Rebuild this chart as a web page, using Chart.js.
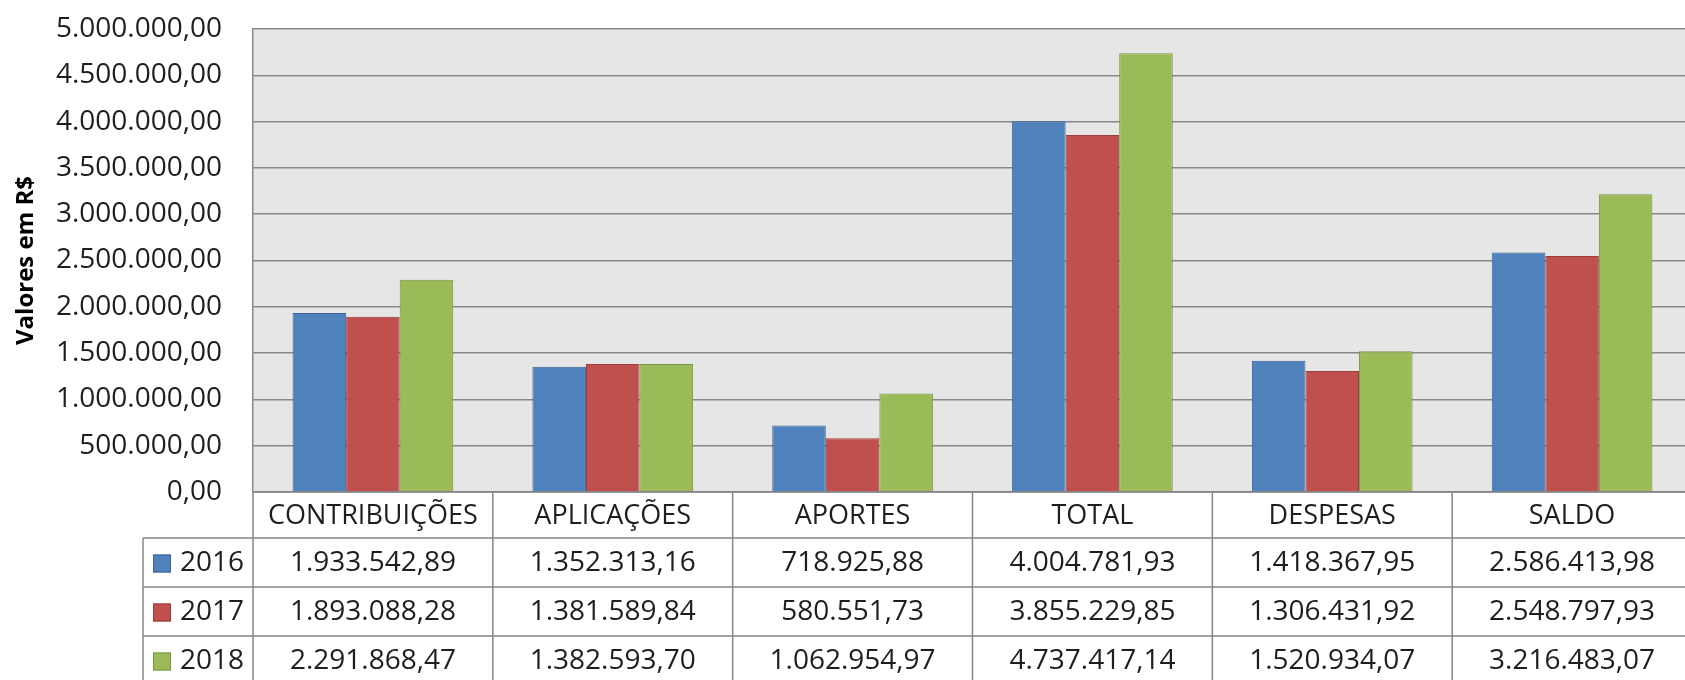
<!DOCTYPE html>
<html lang="pt-BR">
<head>
<meta charset="utf-8">
<title>Valores em R$ 2016-2018</title>
<script src="https://cdn.jsdelivr.net/npm/chart.js@4.4.1/dist/chart.umd.min.js"></script>
<style>
  html, body { margin: 0; padding: 0; background: #ffffff; overflow: hidden; }
  #quadro { width: 1692px; height: 680px; }
</style>
</head>
<body>
<div id="quadro"><canvas id="grafico" width="1692" height="680"></canvas></div>
<script>
// Dados do gráfico
const categorias = ['CONTRIBUIÇÕES', 'APLICAÇÕES', 'APORTES', 'TOTAL', 'DESPESAS', 'SALDO'];
const anos = ['2016', '2017', '2018'];
const valores2016 = [1933542.89, 1352313.16, 718925.88, 4004781.93, 1418367.95, 2586413.98];
const valores2017 = [1893088.28, 1381589.84, 580551.73, 3855229.85, 1306431.92, 2548797.93];
const valores2018 = [2291868.47, 1382593.70, 1062954.97, 4737417.14, 1520934.07, 3216483.07];
const eixoMin = 0;
const eixoMax = 5000000;
const eixoPasso = 500000;

const cores = ['#4f81bd', '#c0504d', '#9bbb59'];
const coresBorda = ['#3c6595', '#9c3d3a', '#7a9645'];
const fonte = '"Open Sans", "Liberation Sans", sans-serif';
const corLinha = '#878787';
const corTexto = '#1e1e1e';

// Formata número no padrão brasileiro (1.234.567,89)
function formatarBR(v) {
  const partes = v.toFixed(2).split('.');
  return partes[0].replace(/\B(?=(\d{3})+(?!\d))/g, '.') + ',' + partes[1];
}

// Fundo cinza da área de plotagem
const fundoPlot = {
  id: 'fundoPlot',
  beforeDraw(chart) {
    const { ctx, chartArea: a } = chart;
    ctx.save();
    ctx.fillStyle = '#e6e6e6';
    ctx.fillRect(a.left, a.top, a.right - a.left, a.bottom - a.top);
    ctx.restore();
  }
};

// Tabela de dados abaixo do gráfico
const tabelaDados = {
  id: 'tabelaDados',
  afterDraw(chart) {
    const { ctx, chartArea: a } = chart;
    const x = chart.scales.x;
    const series = [valores2016, valores2017, valores2018];
    const larg = (a.right - a.left) / categorias.length;
    const altCab = 46;
    const altLinha = 49;
    const legEsq = 143;
    const base = a.bottom + altCab + altLinha * anos.length;

    ctx.save();
    ctx.strokeStyle = corLinha;
    ctx.lineWidth = 1.5;

    // linhas horizontais
    ctx.beginPath();
    ctx.moveTo(a.left, a.bottom);
    ctx.lineTo(a.right, a.bottom);
    for (let r = 0; r <= anos.length; r++) {
      const y = a.bottom + altCab + altLinha * r;
      ctx.moveTo(legEsq, y);
      ctx.lineTo(a.right, y);
    }
    // linhas verticais
    for (let c = 0; c <= categorias.length; c++) {
      const xx = a.left + larg * c;
      ctx.moveTo(xx, a.bottom);
      ctx.lineTo(xx, base);
    }
    ctx.moveTo(legEsq, a.bottom + altCab);
    ctx.lineTo(legEsq, base);
    ctx.stroke();

    // textos
    ctx.fillStyle = corTexto;
    ctx.textAlign = 'center';
    ctx.textBaseline = 'middle';
    ctx.font = '27px ' + fonte;
    categorias.forEach((cat, i) => {
      ctx.fillText(cat, x.getPixelForValue(i), a.bottom + altCab / 2 + 1);
    });
    ctx.font = '28px ' + fonte;
    anos.forEach((ano, r) => {
      const yc = a.bottom + altCab + altLinha * r + altLinha / 2 + 1;
      series[r].forEach((v, i) => {
        ctx.fillText(formatarBR(v), x.getPixelForValue(i), yc);
      });
      // chave da legenda
      ctx.fillStyle = cores[r];
      ctx.fillRect(153, yc - 9, 18, 18);
      ctx.strokeStyle = coresBorda[r];
      ctx.lineWidth = 1;
      ctx.strokeRect(153.5, yc - 8.5, 17, 17);
      ctx.fillStyle = corTexto;
      ctx.textAlign = 'left';
      ctx.fillText(ano, 180, yc);
      ctx.textAlign = 'center';
    });
    ctx.restore();
  }
};

const ctx = document.getElementById('grafico').getContext('2d');
new Chart(ctx, {
  type: 'bar',
  data: {
    labels: categorias,
    datasets: anos.map((ano, i) => ({
      label: ano,
      data: [valores2016, valores2017, valores2018][i],
      backgroundColor: cores[i],
      borderColor: coresBorda[i],
      borderWidth: 1,
      categoryPercentage: 0.67,
      barPercentage: 1
    }))
  },
  options: {
    responsive: false,
    animation: false,
    devicePixelRatio: 1,
    layout: { padding: { top: 29, bottom: 188, left: 0, right: 0 } },
    plugins: {
      legend: { display: false },
      tooltip: { enabled: false }
    },
    scales: {
      x: {
        display: false
      },
      y: {
        min: eixoMin,
        max: eixoMax,
        afterFit(scale) {
          scale.width = 253;
          // o espaçamento horizontal dos rótulos não deve empurrar a área do gráfico
          scale.paddingTop = 0;
          scale.paddingBottom = 0;
        },
        ticks: {
          stepSize: eixoPasso,
          padding: 31,
          color: corTexto,
          font: { family: fonte, size: 28 },
          callback: v => formatarBR(v)
        },
        grid: { color: corLinha, lineWidth: 1.5, drawTicks: false },
        border: { display: true, color: corLinha, width: 1.5 },
        title: {
          display: true,
          text: 'Valores em R$',
          color: '#000000',
          font: { family: fonte, size: 24, weight: 'bold' },
          padding: { top: 12, bottom: 0 }
        }
      }
    }
  },
  plugins: [fundoPlot, tabelaDados]
});
</script>
</body>
</html>
